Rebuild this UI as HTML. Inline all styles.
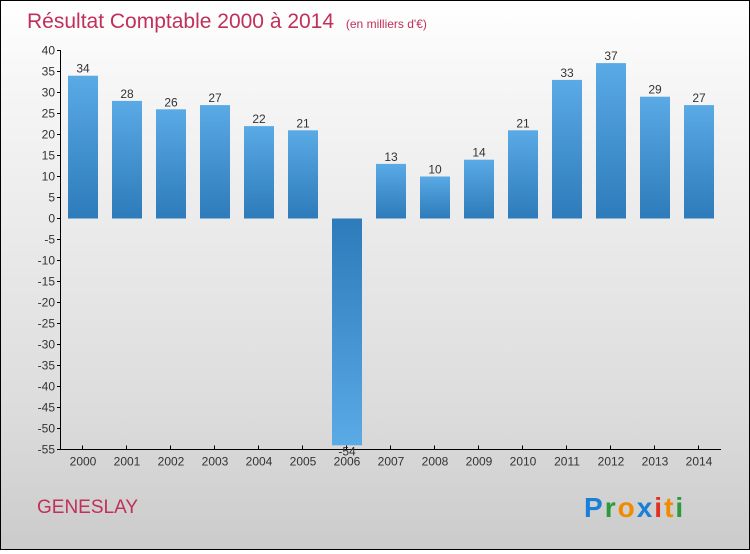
<!DOCTYPE html>
<html><head><meta charset="utf-8"><style>
body{margin:0;}
#c{width:748px;height:548px;border:1px solid #000;background:linear-gradient(#fff,#f6f6f6 15%,#dcdcdc 75%,#cbcbcb);position:relative;font-family:"Liberation Sans",sans-serif;}
</style></head><body>
<div id="c">
<svg width="748" height="548" xmlns="http://www.w3.org/2000/svg">
<defs>
<linearGradient id="gp" x1="0" y1="0" x2="0" y2="1"><stop offset="0" stop-color="#5aaae6"/><stop offset="1" stop-color="#2d7bba"/></linearGradient>
<linearGradient id="gn" x1="0" y1="0" x2="0" y2="1"><stop offset="0" stop-color="#2d7bba"/><stop offset="1" stop-color="#5aaae6"/></linearGradient>
</defs>
<text x="26" y="27" font-size="21" fill="#c0305a">Résultat Comptable 2000 à 2014 <tspan font-size="12" dx="6">(en milliers d'€)</tspan></text>
<g id="axes"></g>
<g id="bars"></g>
<text x="36" y="512" font-size="19" fill="#c0305a">GENESLAY</text>
<g font-size="28" font-weight="bold">
<text x="583" y="516" letter-spacing="2"><tspan fill="#1a7fd6">P</tspan><tspan fill="#2c9a3a">r</tspan><tspan fill="#f08a00">o</tspan><tspan fill="#1a7fd6">x</tspan><tspan fill="#e03020">i</tspan><tspan fill="#f08a00">t</tspan><tspan fill="#2c9a3a">i</tspan></text>
</g>
</svg>
</div>
<script>
const years=["2000","2001","2002","2003","2004","2005","2006","2007","2008","2009","2010","2011","2012","2013","2014"];
const values=[34,28,26,27,22,21,-54,13,10,14,21,33,37,29,27];
const yTicks=[40,35,30,25,20,15,10,5,0,-5,-10,-15,-20,-25,-30,-35,-40,-45,-50,-55];
const NS="http://www.w3.org/2000/svg";
function y(v){return 218+(0-v)*(399/95)-0.5;}
function x(i){return 81+i*44;}
function mk(t,a,p){const e=document.createElementNS(NS,t);for(const k in a)e.setAttribute(k,a[k]);p.appendChild(e);return e;}
const ax=document.getElementById('axes'),bg=document.getElementById('bars');
let l=mk('line',{x1:59.5,y1:y(40),x2:59.5,y2:y(-55),stroke:'#000'},ax);

l=mk('line',{x1:59.5,y1:y(-55),x2:720,y2:y(-55),stroke:'#000'},ax);

yTicks.forEach(v=>{
 mk('line',{x1:56,x2:60,y1:y(v),y2:y(v),stroke:'#000'},ax);
 const t=mk('text',{x:54,y:y(v)+4,'text-anchor':'end','font-size':12,fill:'#333'},ax);t.textContent=v;
 
});
years.forEach((yr,i)=>{
 mk('line',{x1:x(i)+0.5,x2:x(i)+0.5,y1:y(-55),y2:y(-55)-4,stroke:'#000'},ax);
 const t=mk('text',{x:x(i)+1,y:y(-55)+16,'text-anchor':'middle','font-size':12,fill:'#333'},ax);t.textContent=yr;
 
 const v=values[i],top=Math.min(y(v),y(0)),h=Math.abs(y(v)-y(0));
 const r=mk('rect',{x:x(i)-14,y:top,width:30,height:h,fill:v>=0?'url(#gp)':'url(#gn)'},bg);
 
 const lb=mk('text',{x:x(i)+1,y:v>=0?y(v)-3:y(v)+10,'text-anchor':'middle','font-size':12,fill:'#333'},bg);lb.textContent=v;
 
});
</script>
</body></html>
